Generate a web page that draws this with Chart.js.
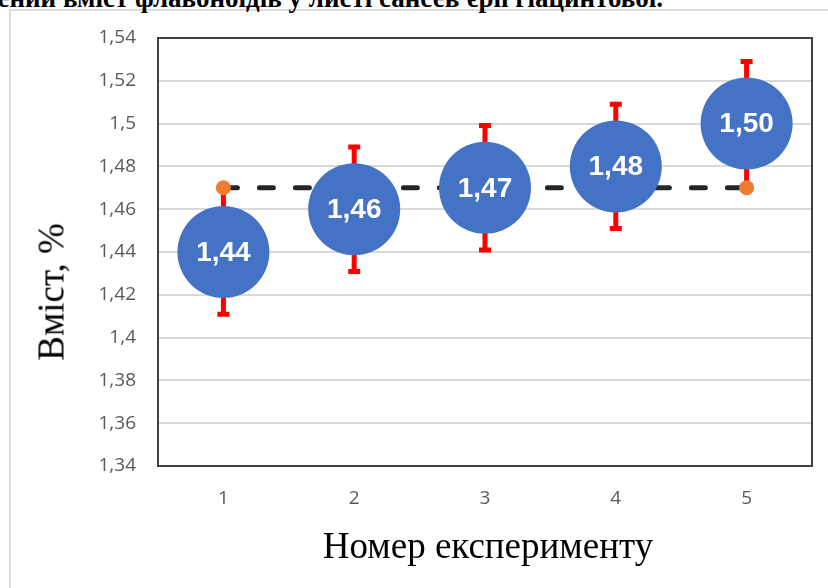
<!DOCTYPE html>
<html>
<head>
<meta charset="utf-8">
<script src="https://cdn.jsdelivr.net/npm/chart.js@4.4.1/dist/chart.umd.min.js"></script>
<style>
  html, body { margin: 0; padding: 0; background: #fff; }
  body { width: 828px; height: 588px; position: relative; overflow: hidden; }
  #frame { position: absolute; left: 9px; top: 9px; width: 900px; height: 700px; border: 2px solid #dcdcdc; box-sizing: border-box; }
  #topTitle { position: absolute; right: 165px; top: -17px; white-space: nowrap; font: bold 27px "Liberation Serif", "Times New Roman", serif; color: #000; }
  #chart { position: absolute; left: 0; top: 0; }
  .axisTitle { position: absolute; font: 37px "Liberation Serif", "Times New Roman", serif; color: #000; white-space: nowrap; }
  #xTitle { left: 488px; top: 545px; transform: translate(-50%, -50%); }
  #yTitle { left: 51px; top: 292px; transform: translate(-50%, -50%) rotate(-90deg); }
</style>
</head>
<body>
<div id="frame"></div>
<div id="topTitle">Усереднений вміст флавоноїдів у листі сансев'єрії гіацинтової.</div>
<canvas id="chart" width="828" height="588"></canvas>
<div id="xTitle" class="axisTitle">Номер експерименту</div>
<div id="yTitle" class="axisTitle">Вміст, %</div>
<script>
// experiment numbers and measured flavonoid content
const experiments = [1, 2, 3, 4, 5];
const meanContent = [1.44, 1.46, 1.47, 1.48, 1.50];
const errorMargin = [0.03, 0.03, 0.03, 0.03, 0.03];
// overall average, dashed reference line
const referenceX = [1, 5];
const referenceY = [1.47, 1.47];
const yMin = 1.34, yMax = 1.54, yStep = 0.02;

const fmtTick = (v) => String(Number(v.toFixed(2))).replace(".", ",");
const fmtLabel = (v) => v.toFixed(2).replace(".", ",");

// drop the extra room chart.js keeps for edge tick labels
const noPadding = (s) => {
  s.paddingLeft = 0;
  s.paddingRight = 0;
  s.paddingTop = 0;
  s.paddingBottom = 0;
};

const errorBars = {
  id: "errorBars",
  beforeDatasetsDraw(chart) {
    const { ctx, scales: { x, y } } = chart;
    ctx.save();
    ctx.strokeStyle = "#ff0000";
    ctx.lineWidth = 5;
    experiments.forEach((e, i) => {
      const px = x.getPixelForValue(e);
      const top = y.getPixelForValue(meanContent[i] + errorMargin[i]);
      const bot = y.getPixelForValue(meanContent[i] - errorMargin[i]);
      ctx.beginPath();
      ctx.moveTo(px, top);
      ctx.lineTo(px, bot);
      ctx.moveTo(px - 6, top + 2);
      ctx.lineTo(px + 6, top + 2);
      ctx.moveTo(px - 6, bot - 2);
      ctx.lineTo(px + 6, bot - 2);
      ctx.stroke();
    });
    ctx.restore();
  },
};

const plotFrame = {
  id: "plotFrame",
  beforeDatasetsDraw(chart) {
    const { ctx, chartArea: a } = chart;
    ctx.save();
    ctx.strokeStyle = "#404040";
    ctx.lineWidth = 2;
    ctx.strokeRect(a.left, a.top, a.right - a.left, a.bottom - a.top);
    ctx.restore();
  },
};

const bubbleLabels = {
  id: "bubbleLabels",
  afterDatasetsDraw(chart) {
    const { ctx } = chart;
    const meta = chart.getDatasetMeta(1);
    ctx.save();
    ctx.fillStyle = "#fff";
    ctx.font = 'bold 28px "Liberation Sans", Arial, sans-serif';
    ctx.textAlign = "center";
    ctx.textBaseline = "middle";
    meta.data.forEach((pt, i) => {
      ctx.fillText(fmtLabel(meanContent[i]), pt.x, pt.y + 1);
    });
    ctx.restore();
  },
};

new Chart(document.getElementById("chart"), {
  data: {
    datasets: [
      {
        type: "line",
        data: referenceX.map((v, i) => ({ x: v, y: referenceY[i] })),
        borderColor: "#262626",
        borderWidth: 5,
        borderDash: [14, 22],
        borderCapStyle: "round",
        pointRadius: 7.5,
        pointBackgroundColor: "#ed7d31",
        pointBorderWidth: 0,
        order: 2,
      },
      {
        type: "bubble",
        data: experiments.map((v, i) => ({ x: v, y: meanContent[i], r: 46 })),
        backgroundColor: "#4472c4",
        borderWidth: 0,
        order: 1,
      },
    ],
  },
  options: {
    responsive: false,
    animation: false,
    layout: { autoPadding: false, padding: { top: 38, right: 16, left: 0, bottom: 0 } },
    plugins: { legend: { display: false }, tooltip: { enabled: false } },
    scales: {
      x: {
        type: "linear",
        min: 0.5,
        max: 5.5,
        afterBuildTicks: (s) => { s.ticks = experiments.map((v) => ({ value: v })); },
        afterFit: (s) => { s.height = 122; noPadding(s); },
        grid: { display: false, drawTicks: false },
        border: { display: false },
        ticks: { padding: 21, color: "#595959", font: { family: '"Open Sans", sans-serif', size: 19 } },
      },
      y: {
        min: yMin,
        max: yMax,
        afterFit: (s) => { s.width = 158; noPadding(s); },
        grid: { color: "#d9d9d9", lineWidth: 2, drawTicks: false },
        border: { display: false },
        ticks: {
          stepSize: yStep,
          padding: 22,
          color: "#595959",
          font: { family: '"Open Sans", sans-serif', size: 19 },
          callback: (v) => fmtTick(v),
        },
      },
    },
  },
  plugins: [errorBars, plotFrame, bubbleLabels],
});
</script>
</body>
</html>
